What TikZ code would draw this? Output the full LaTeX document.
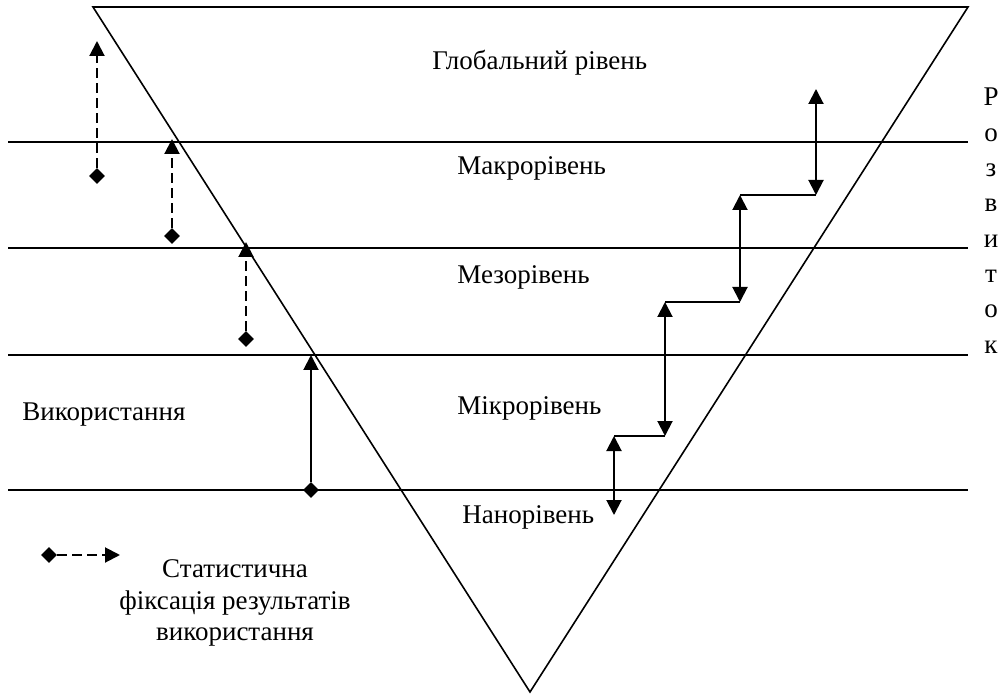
\documentclass[tikz,border=0pt]{standalone}
\usepackage{fontspec}
\setmainfont{Liberation Serif}
\usetikzlibrary{arrows.meta, shapes.geometric}

\begin{document}
\begin{tikzpicture}[x=0.5pt, y=-0.5pt, >={Triangle[width=7.5pt, length=7.5pt]},
    txt/.style={font=\fontsize{13.5}{15.7}\selectfont, inner sep=0pt},
    level/.style={txt, anchor=west},
    dot/.style={diamond, fill, draw=none, inner sep=0pt, minimum size=8pt},
    stat/.style={line width=1pt, dash pattern=on 5pt off 2.5pt, ->},
    usearrow/.style={line width=1pt, ->},
    updown/.style={line width=1pt, <->},
    tier/.style={line width=0.8pt}
  ]
  \useasboundingbox (0,0) rectangle (1007,695);

  % inverted triangle
  \coordinate (tl) at (93,7);
  \coordinate (tr) at (968,7);
  \coordinate (tb) at (530,692);
  \draw[line width=0.8pt] (tl) -- (tr) -- (tb) -- cycle;

  % level boundaries
  \foreach \y/\n in {142/a, 248/b, 355/c, 490/d} {
    \coordinate (l\n) at (8,\y);
    \coordinate (r\n) at (968,\y);
    \draw[tier] (l\n) -- (r\n);
  }

  % level names
  \node[level] (glob)  at (432,63)  {Глобальний рівень};
  \node[level] (macro) at (457,168) {Макрорівень};
  \node[level] (meso)  at (457,277) {Мезорівень};
  \node[level] (micro) at (457,408) {Мікрорівень};
  \node[level] (nano)  at (462,517) {Нанорівень};
  \node[level] (usage) at (22,415)  {Використання};

  % statistical fixation (dashed)
  \node[dot] (d1) at (97,176) {};
  \node[dot] (d2) at (172,236) {};
  \node[dot] (d3) at (246,339) {};
  \coordinate (t1) at (97,41);
  \coordinate (t2) at (172,139);
  \coordinate (t3) at (246,242);
  \draw[stat] (d1) -- (t1);
  \draw[stat] (d2) -- (t2);
  \draw[stat] (d3) -- (t3);

  % usage
  \node[dot] (d4) at (311,490) {};
  \coordinate (t4) at (311,355);
  \draw[usearrow] (d4) -- (t4);

  % development staircase
  \coordinate (s1t) at (816,89);
  \coordinate (s1b) at (816,195);
  \coordinate (s2t) at (740,195);
  \coordinate (s2b) at (740,302);
  \coordinate (s3t) at (665,302);
  \coordinate (s3b) at (665,436);
  \coordinate (s4t) at (614,436);
  \coordinate (s4b) at (614,515);
  \draw[updown] (s1t) -- (s1b);
  \draw[updown] (s2t) -- (s2b);
  \draw[updown] (s3t) -- (s3b);
  \draw[updown] (s4t) -- (s4b);
  \draw[tier] (s1b) -- (s2t);
  \draw[tier] (s2b) -- (s3t);
  \draw[tier] (s3b) -- (s4t);

  % vertical label
  \foreach \c [count=\i from 0] in {Р,о,з,в,и,т,о,к}
    \node[txt, anchor=base] (dev\i) at (991,{106+35.3*\i}) {\c};

  % legend
  \node[dot] (ld) at (49,555) {};
  \coordinate (lt) at (120,555);
  \draw[stat] (ld) -- (lt);
  \node[txt, align=center] (legend) at (235,603) {Статистична\\фіксація результатів\\використання};
\end{tikzpicture}
\end{document}
